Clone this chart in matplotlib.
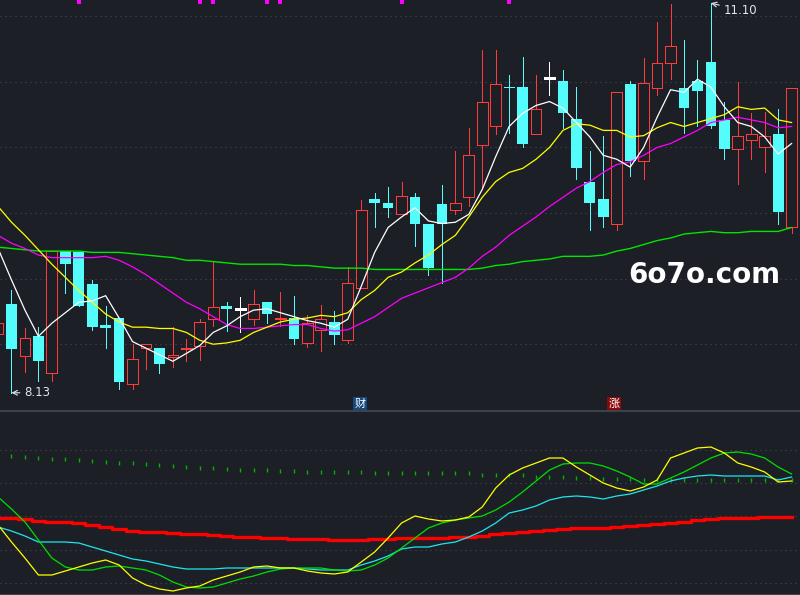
import matplotlib
matplotlib.use('Agg')
import matplotlib.pyplot as plt
import matplotlib.transforms as mtransforms
import numpy as np

BG = '#1c1f26'
GRID = '#464b59'
UP = '#ff3b3b'
DOWN = '#54fcfc'

# candle index -1 is the partly hidden one on the left edge
days = np.arange(-1, 59)

opens = [8.58, 8.81, 8.41, 8.56, 8.28, 9.21, 9.20, 8.96, 8.65, 8.70,
         8.20, 8.47, 8.47, 8.40, 8.46, 8.49, 8.69, 8.79, 8.77, 8.69,
         8.82, 8.69, 8.70, 8.51, 8.61, 8.67, 8.53, 8.93, 9.61, 9.58,
         9.49, 9.62, 9.42, 9.57, 9.52, 9.62, 10.02, 10.16, 10.46, 10.46,
         10.10, 10.53, 10.51, 10.22, 9.74, 9.61, 9.42, 10.48, 9.90, 10.45,
         10.64, 10.45, 10.51, 10.65, 10.21, 9.99, 10.06, 10.00, 10.10, 9.39]
closes = [8.66, 8.46, 8.55, 8.37, 9.21, 9.11, 8.79, 8.63, 8.62, 8.21,
          8.39, 8.50, 8.35, 8.42, 8.47, 8.67, 8.78, 8.77, 8.77, 8.81,
          8.73, 8.70, 8.54, 8.66, 8.69, 8.57, 8.97, 9.52, 9.58, 9.54,
          9.63, 9.42, 9.08, 9.42, 9.58, 9.94, 10.35, 10.48, 10.45, 10.03,
          10.29, 10.53, 10.26, 9.84, 9.58, 9.47, 10.42, 9.90, 10.49, 10.64,
          10.77, 10.30, 10.43, 10.16, 9.99, 10.09, 10.10, 10.09, 9.51, 10.45]
highs = [8.70, 8.91, 8.62, 8.63, 9.21, 9.21, 9.20, 8.99, 8.79, 8.70,
         8.50, 8.50, 8.47, 8.63, 8.54, 8.69, 9.13, 8.82, 8.86, 8.91,
         8.82, 8.90, 8.87, 8.72, 8.80, 8.75, 9.09, 9.60, 9.65, 9.70,
         9.74, 9.65, 9.42, 9.71, 9.97, 10.15, 10.74, 10.74, 10.55, 10.69,
         10.55, 10.65, 10.59, 10.46, 9.97, 10.09, 10.42, 10.51, 10.68, 10.96,
         11.09, 10.82, 10.67, 11.10, 10.35, 10.50, 10.26, 10.27, 10.29, 10.45]
lows = [8.53, 8.13, 8.29, 8.22, 8.22, 8.89, 8.79, 8.61, 8.47, 8.16,
        8.16, 8.31, 8.28, 8.33, 8.37, 8.38, 8.64, 8.60, 8.59, 8.65,
        8.66, 8.64, 8.50, 8.48, 8.45, 8.50, 8.51, 8.93, 9.39, 9.47,
        9.49, 9.25, 9.03, 8.97, 9.49, 9.55, 9.68, 10.10, 10.11, 10.00,
        10.10, 10.40, 10.15, 9.76, 9.37, 9.39, 9.37, 9.78, 9.76, 10.40,
        10.52, 10.11, 10.16, 10.15, 9.91, 9.72, 9.91, 9.81, 9.42, 9.35]

ma5 = [9.23, 8.99, 8.76, 8.56, 8.66, 8.74, 8.82, 8.83, 8.87, 8.70,
       8.52, 8.47, 8.42, 8.37, 8.43, 8.49, 8.59, 8.64, 8.71, 8.76,
       8.77, 8.74, 8.71, 8.68, 8.66, 8.63, 8.69, 8.94, 9.20, 9.39,
       9.47, 9.54, 9.44, 9.42, 9.43, 9.49, 9.68, 9.93, 10.16, 10.26,
       10.32, 10.35, 10.30, 10.19, 10.08, 9.94, 9.91, 9.85, 10.00, 10.23,
       10.44, 10.42, 10.52, 10.46, 10.31, 10.19, 10.16, 10.08, 9.95, 10.03]
ma10 = [9.55, 9.43, 9.33, 9.22, 9.11, 9.01, 8.91, 8.82, 8.73, 8.67,
        8.63, 8.63, 8.62, 8.62, 8.59, 8.53, 8.50, 8.51, 8.53, 8.59,
        8.63, 8.67, 8.69, 8.70, 8.72, 8.71, 8.74, 8.84, 8.91, 9.01,
        9.05, 9.12, 9.18, 9.26, 9.33, 9.47, 9.62, 9.74, 9.81, 9.84,
        9.91, 10.00, 10.13, 10.18, 10.17, 10.13, 10.13, 10.08, 10.09, 10.15,
        10.19, 10.16, 10.19, 10.22, 10.25, 10.31, 10.29, 10.30, 10.21, 10.19]
ma20 = [9.33, 9.27, 9.23, 9.18, 9.16, 9.16, 9.16, 9.16, 9.17, 9.14,
        9.09, 9.03, 8.96, 8.89, 8.82, 8.77, 8.71, 8.65, 8.62, 8.62,
        8.63, 8.64, 8.65, 8.65, 8.62, 8.60, 8.61, 8.66, 8.71, 8.78,
        8.85, 8.89, 8.93, 8.97, 9.01, 9.08, 9.17, 9.24, 9.33, 9.40,
        9.47, 9.55, 9.62, 9.69, 9.74, 9.81, 9.87, 9.89, 9.94, 10.00,
        10.03, 10.08, 10.13, 10.19, 10.21, 10.23, 10.21, 10.19, 10.15, 10.16]
ma60 = [9.24, 9.23, 9.22, 9.21, 9.21, 9.21, 9.21, 9.20, 9.20, 9.20,
        9.19, 9.18, 9.17, 9.16, 9.14, 9.14, 9.13, 9.12, 9.11, 9.11,
        9.11, 9.11, 9.10, 9.10, 9.09, 9.08, 9.08, 9.08, 9.07, 9.07,
        9.07, 9.07, 9.07, 9.07, 9.07, 9.07, 9.08, 9.10, 9.11, 9.13,
        9.14, 9.15, 9.17, 9.17, 9.17, 9.18, 9.21, 9.23, 9.26, 9.29,
        9.31, 9.34, 9.35, 9.36, 9.35, 9.35, 9.36, 9.36, 9.36, 9.39]

# lower indicator panel
ind_yellow = [34.8, 24.6, 15.0, 4.8, 4.8, 7.2, 9.6, 12.0, 13.8, 10.8,
              3.0, -1.2, -3.6, -4.8, -3.0, -1.8, 1.8, 4.2, 6.6, 9.6,
              10.2, 9.0, 9.0, 7.2, 6.0, 5.4, 6.6, 12.6, 18.6, 27.0,
              36.0, 40.2, 38.4, 37.2, 37.8, 39.6, 45.6, 57.0, 64.8, 69.0,
              72.0, 75.0, 75.0, 69.6, 64.8, 60.0, 57.0, 55.2, 57.6, 61.8,
              75.0, 78.0, 81.0, 81.6, 78.0, 72.0, 69.6, 66.6, 60.6, 61.2]
ind_green = [51.6, 44.4, 36.6, 25.8, 15.0, 9.6, 7.8, 7.8, 9.6, 10.2,
             9.0, 7.8, 4.8, 0.6, -2.4, -3.0, -2.4, 0.0, 2.4, 4.2,
             6.6, 8.4, 9.0, 9.0, 9.0, 7.8, 7.2, 7.8, 10.8, 15.0,
             21.0, 27.0, 33.0, 36.0, 37.8, 39.0, 40.2, 43.8, 48.6, 54.6,
             61.2, 67.8, 71.4, 72.0, 72.0, 70.2, 67.2, 63.6, 59.4, 59.4,
             63.0, 66.6, 70.8, 75.0, 78.0, 78.6, 77.4, 75.0, 69.6, 65.4]
ind_cyan = [33.6, 31.2, 28.2, 24.6, 24.6, 24.6, 24.0, 21.6, 19.2, 16.8,
            14.4, 13.2, 11.4, 9.6, 8.4, 8.4, 8.4, 9.0, 9.0, 9.0,
            9.0, 9.0, 9.0, 8.4, 7.8, 7.8, 7.8, 10.8, 13.2, 16.2,
            20.4, 21.6, 21.6, 23.4, 24.6, 27.6, 31.2, 36.0, 42.0, 43.8,
            46.2, 49.8, 51.6, 52.2, 51.6, 50.4, 52.2, 53.4, 55.8, 58.2,
            61.2, 63.0, 64.2, 64.8, 64.2, 64.2, 64.2, 64.2, 61.8, 63.6]
ind_red = [39.3, 39.0, 38.4, 37.2, 36.6, 36.6, 36.0, 34.8, 33.6, 32.4,
           31.2, 30.9, 30.6, 30.0, 29.7, 29.4, 28.8, 28.2, 27.9, 27.6,
           27.3, 27.0, 26.4, 26.4, 26.4, 25.8, 25.8, 25.8, 26.4, 26.7,
           27.0, 27.3, 27.3, 27.3, 27.6, 27.6, 28.2, 29.4, 30.0, 30.6,
           31.2, 31.8, 32.4, 33.0, 33.0, 33.0, 33.6, 34.2, 34.8, 35.4,
           36.0, 36.6, 37.8, 38.4, 39.0, 39.0, 39.3, 39.6, 39.6, 39.6]
# dotted level, days 0..58
ind_dots = [76.2, 75.6, 75.0, 74.4, 74.4, 73.8, 73.2, 72.6, 72.0, 72.0,
            71.4, 70.8, 70.2, 69.6, 69.0, 69.0, 68.4, 67.8, 67.8, 67.8,
            67.2, 67.2, 66.6, 66.6, 66.6, 66.6, 66.6, 66.0, 66.0, 66.0,
            66.0, 66.0, 66.0, 66.0, 66.0, 64.8, 64.8, 64.8, 64.8, 63.6,
            63.6, 63.6, 63.0, 63.0, 62.4, 62.4, 62.4, 61.8, 61.8, 61.8,
            61.8, 61.8, 61.8, 61.8, 61.8, 61.8, 61.8, 61.8, 61.8]

signal_days = [5, 14, 15, 19, 20, 29, 37]
label_cai = 26
label_zhang = 45

fig = plt.figure(figsize=(8, 5.95), dpi=100, facecolor=BG)
split = 184 / 595
ax = fig.add_axes([0, split, 1, 1 - split], facecolor=BG)
ax2 = fig.add_axes([0, 0, 1, split], facecolor=BG)

for a in (ax, ax2):
    a.set_xlim(-0.855, 58.625)
    a.set_xticks([])
    a.set_yticks([])
    for s in a.spines.values():
        s.set_visible(False)

ax.set_ylim(7.991, 11.124)
ax2.set_ylim(-7.2, 103.2)

for p in [8.5, 9.0, 9.5, 10.0, 10.5, 11.0]:
    ax.axhline(p, color=GRID, lw=0.8, ls=(0, (1, 3.5)), zorder=0)
for v in [0, 20, 40, 60, 80]:
    ax2.axhline(v, color=GRID, lw=0.8, ls=(0, (1, 3.5)), zorder=0)

for side in ('top', 'bottom'):
    ax2.spines[side].set_visible(True)
    ax2.spines[side].set_color('#3c414d')
    ax2.spines[side].set_linewidth(1.5)

# candles, drawn crisp like the terminal does
w = 0.8
px = 0.5
for d, o, c, h, l in zip(days, opens, closes, highs, lows):
    top, bot = max(o, c), min(o, c)
    if c > o:
        ax.vlines(d, top, h, color=UP, lw=px, zorder=2, antialiased=False)
        ax.vlines(d, l, bot, color=UP, lw=px, zorder=2, antialiased=False)
        ax.bar(d, top - bot, w, bottom=bot, facecolor=BG, edgecolor=UP,
               lw=px, zorder=3, antialiased=False)
    elif c < o:
        ax.vlines(d, l, h, color=DOWN, lw=px, zorder=2, antialiased=False)
        ax.bar(d, top - bot, w, bottom=bot, color=DOWN, lw=0, zorder=3,
               antialiased=False)
    else:
        ax.vlines(d, l, h, color='white', lw=px, zorder=2, antialiased=False)
        ax.hlines(c, d - w / 2, d + w / 2, color='white', lw=1.0, zorder=3,
                  antialiased=False)

ax.plot(days, ma60, color='#00e600', lw=1, zorder=4)
ax.plot(days, ma20, color='#ff00ff', lw=0.9, zorder=4)
ax.plot(days, ma10, color='#ffff00', lw=0.9, zorder=4)
ax.plot(days, ma5, color='white', lw=0.9, zorder=5)

top_edge = mtransforms.blended_transform_factory(ax.transData, ax.transAxes)
ax.plot(signal_days, [0.996] * len(signal_days), ls='none', marker='s',
        ms=2.6, color='#ff00ff', mew=0, transform=top_edge, clip_on=False)

lbl = '#dbe6f7'
ax.annotate('8.13', xy=(0, 8.13), xytext=(9, 0), textcoords='offset points',
            color=lbl, fontsize=8.5, va='center', ha='left',
            arrowprops=dict(arrowstyle='->', color=lbl, lw=0.8,
                            shrinkA=1, shrinkB=0))
ax.annotate('11.10', xy=(52, 11.10), xytext=(9, -5), textcoords='offset points',
            color=lbl, fontsize=8.5, va='center', ha='left',
            arrowprops=dict(arrowstyle='->', color=lbl, lw=0.8,
                            shrinkA=1, shrinkB=0))

cjk = ['Noto Sans CJK SC', 'DejaVu Sans']
ax.text(label_cai - 0.1, 0.018, '财', transform=top_edge, family=cjk,
        fontsize=8, color='white', ha='center', va='center',
        bbox=dict(boxstyle='square,pad=0.1', fc='#174a7c', ec='none'))
ax.text(label_zhang - 0.2, 0.018, '涨', transform=top_edge, family=cjk,
        fontsize=8, color='white', ha='center', va='center',
        bbox=dict(boxstyle='square,pad=0.1', fc='#8a0a0a', ec='none'))

fig.text(0.881, 0.537, '6o7o.com', color='white', fontsize=20,
         fontweight='bold', ha='center', va='center', family='DejaVu Sans')

# lower panel
ax2.plot(days[1:], ind_dots, ls='none', marker='|', ms=3, mew=1,
         color='#00b400', zorder=2)
ax2.plot(days, ind_red, color='#ff0000', lw=2.4, drawstyle='steps-mid', zorder=3)
ax2.plot(days, ind_cyan, color='#1ee6f0', lw=0.9, zorder=4)
ax2.plot(days, ind_green, color='#00e000', lw=0.9, zorder=4)
ax2.plot(days, ind_yellow, color='#ffff00', lw=0.9, zorder=5)

fig.savefig('out.png', dpi=100, facecolor=BG)
